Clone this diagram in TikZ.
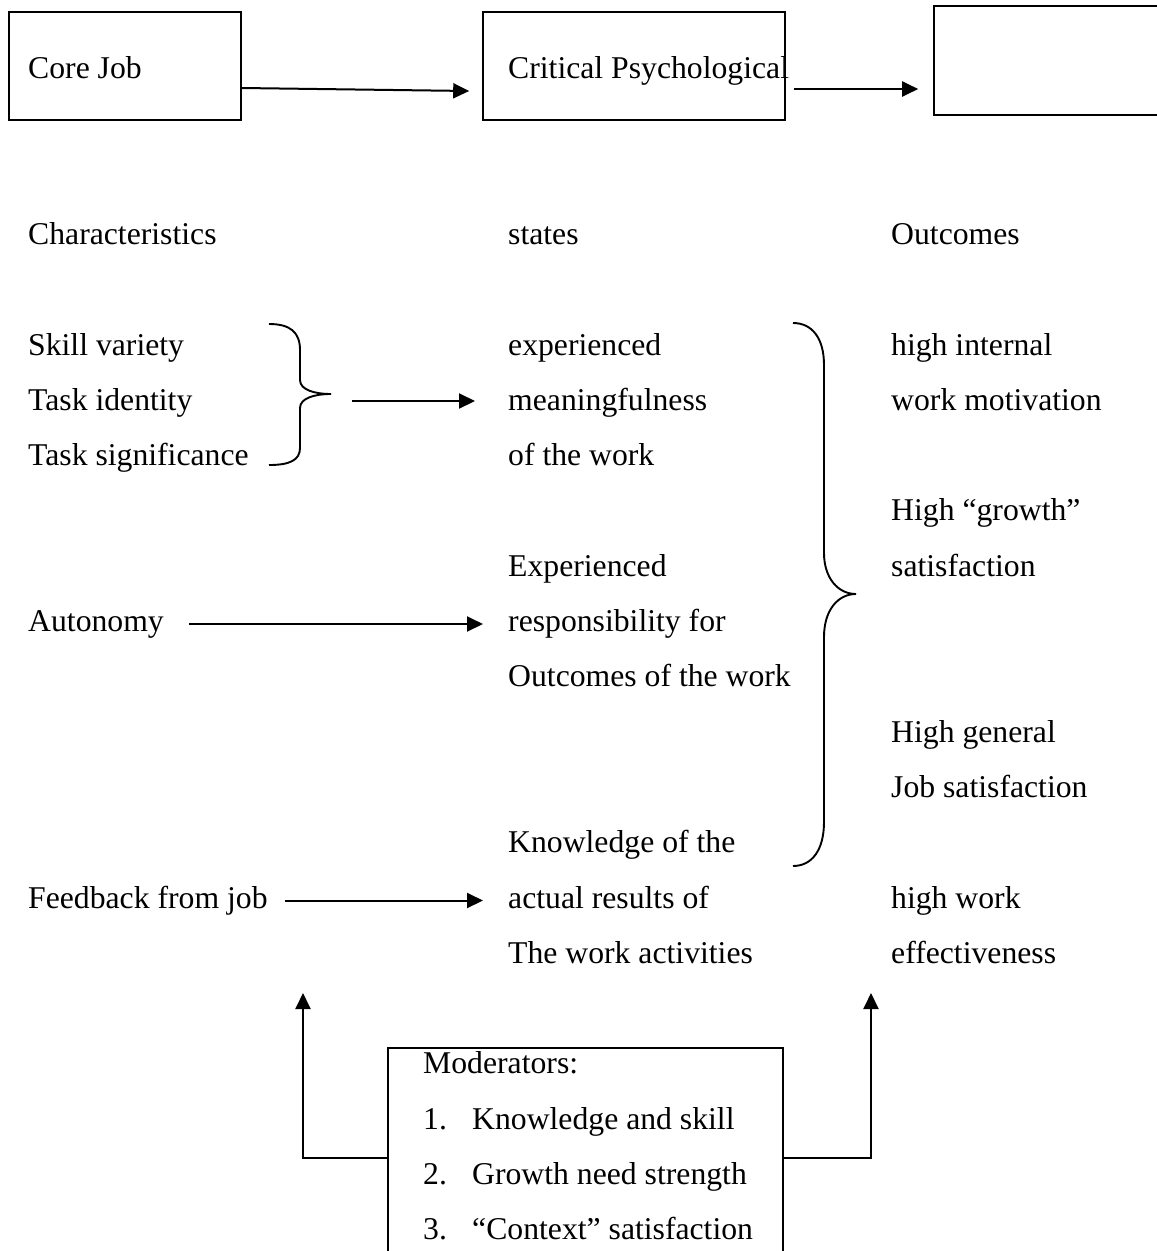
\documentclass[tikz,border=0pt]{standalone}
\usepackage{fontspec}
\setmainfont{Liberation Serif}
\usetikzlibrary{arrows.meta}
\begin{document}
\begin{tikzpicture}[x=1pt,y=-1pt,
  every node/.style={font=\fontsize{31.7}{38}\selectfont},
  txt/.style={anchor=base west,inner sep=0pt,text height=22pt,text depth=7pt,yshift=-2pt},
  box/.style={draw,line width=1.6pt,inner sep=0pt},
  arr/.style={line width=2pt,-{Triangle[length=16pt,width=15pt]}},
  brace/.style={line width=1.9pt},
  frame/.style={line width=1.6pt}]
\useasboundingbox (0,0) rectangle (1157,1251);
\clip (0,0) rectangle (1157,1251);
\fill[white] (0,0) rectangle (1157,1251);

% top row of boxes
\node[box,minimum width=232pt,minimum height=108pt] (b1) at (125,66) {};
\node[box,minimum width=302pt,minimum height=108pt] (b2) at (634,66) {};
\node[box,minimum width=240pt,minimum height=109pt] (b3) at (1054,60.5) {};
\node[txt] (corejob) at (28,76.5) {Core Job};
\node[txt] (critpsy) at (508,76.5) {Critical Psychological};

\draw[arr] ([yshift=-22pt]b1.east) -- ([xshift=-13pt,yshift=-25pt]b2.west);
\draw[arr] ([xshift=8pt,yshift=-23pt]b2.east) -- ([xshift=-15pt,yshift=-28.5pt]b3.west);

% column headings
\node[txt] (hchar) at (28,242.4) {Characteristics};
\node[txt] (hstates) at (508,242.4) {states};
\node[txt] (hout) at (891,242.4) {Outcomes};

% core job characteristics
\node[txt] (skill) at (28,353) {Skill variety};
\node[txt] (tident) at (28,408.3) {Task identity};
\node[txt] (tsig) at (28,463.6) {Task significance};
\node[txt] (auton) at (28,629.5) {Autonomy};
\node[txt] (feedb) at (28,906) {Feedback from job};

% critical psychological states
\node[txt] (s1a) at (508,353) {experienced};
\node[txt] (s1b) at (508,408.3) {meaningfulness};
\node[txt] (s1c) at (508,463.6) {of the work};
\node[txt] (s2a) at (508,574.2) {Experienced};
\node[txt] (s2b) at (508,629.5) {responsibility for};
\node[txt] (s2c) at (508,684.8) {Outcomes of the work};
\node[txt] (s3a) at (508,850.7) {Knowledge of the};
\node[txt] (s3b) at (508,906) {actual results of};
\node[txt] (s3c) at (508,961.3) {The work activities};

% outcomes
\node[txt] (o1a) at (891,353) {high internal};
\node[txt] (o1b) at (891,408.3) {work motivation};
\node[txt] (o2a) at (891,518.9) {High “growth”};
\node[txt] (o2b) at (891,574.2) {satisfaction};
\node[txt] (o3a) at (891,740.1) {High general};
\node[txt] (o3b) at (891,795.4) {Job satisfaction};
\node[txt] (o4a) at (891,906) {high work};
\node[txt] (o4b) at (891,961.3) {effectiveness};

% small brace grouping the first three characteristics
\draw[brace] (269,324) .. controls (290,324) and (300,332) .. (300,350)
  -- (300,380) .. controls (300,390) and (315,394) .. (331,394)
  .. controls (315,394) and (300,398) .. (300,408)
  -- (300,448) .. controls (300,460) and (290,465) .. (269,465);
\coordinate (btip) at (331,394);

% large brace gathering the states into the outcomes
\draw[brace] (793,323) .. controls (812,323) and (824,338) .. (824,365)
  -- (824,553) .. controls (824,578) and (838,594) .. (856,594)
  .. controls (838,594) and (824,610) .. (824,637)
  -- (824,822) .. controls (824,850) and (812,866) .. (793,866);

% characteristic -> state arrows
\coordinate (m1) at (s1b.west |- 0,401);
\draw[arr] ([xshift=21pt]btip |- m1) -- ([xshift=-33pt]m1);
\coordinate (m2) at (auton.east -| s2b.west);
\draw[arr] ([xshift=25pt]auton.east) -- ([xshift=-25pt]m2);
\coordinate (m3) at (feedb.east -| s3b.west);
\draw[arr] ([xshift=17pt]feedb.east) -- ([xshift=-25pt]m3);

% moderators box, open at the bottom edge
\coordinate (mtl) at (388,1048);
\coordinate (mtr) at (783,1048);
\draw[frame] (388,1260) -- (mtl) -- (mtr) -- (783,1260);
\node[txt] (modt) at (423,1071.9) {Moderators:};
\node[txt] (n1) at (423,1127.2) {1.};
\node[txt] (m1t) at (472,1127.2) {Knowledge and skill};
\node[txt] (n2) at (423,1182.5) {2.};
\node[txt] (m2t) at (472,1182.5) {Growth need strength};
\node[txt] (n3) at (423,1237.8) {3.};
\node[txt] (m3t) at (472,1237.8) {“Context” satisfaction};

% moderating arrows
\coordinate (ml) at (388,1158);
\coordinate (mr) at (783,1158);
\coordinate (lt) at (303,993);
\coordinate (rt) at (871,993);
\draw[arr] (ml) -| (lt);
\draw[arr] (mr) -| (rt);
\end{tikzpicture}
\end{document}
